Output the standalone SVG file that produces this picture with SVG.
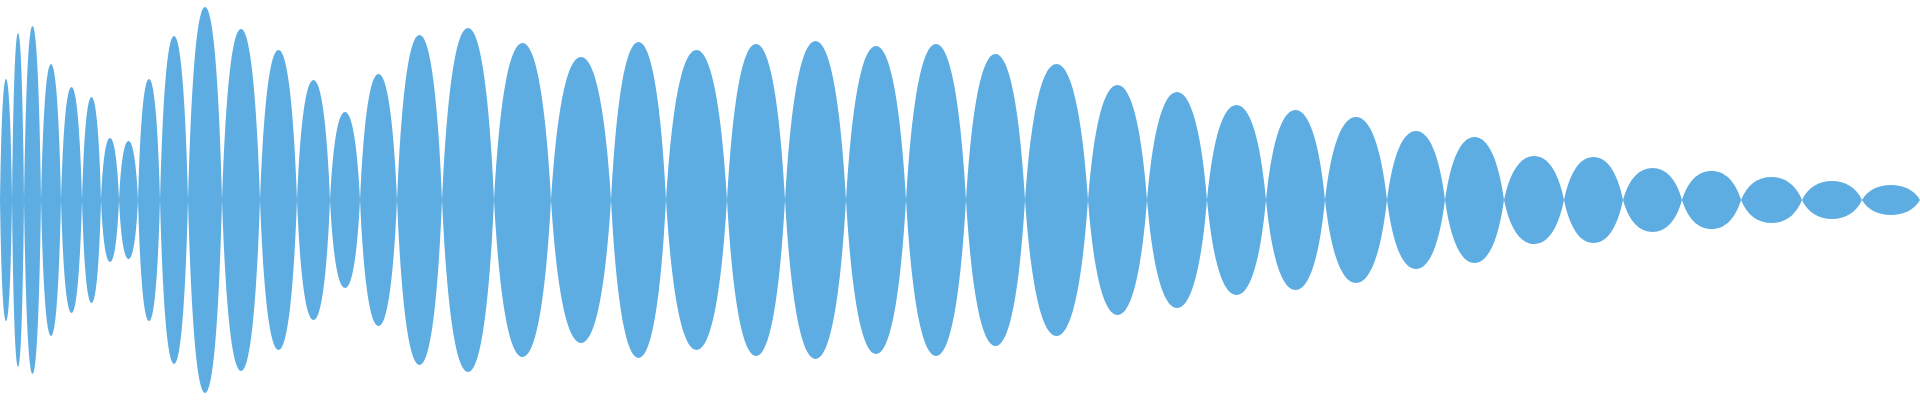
<svg xmlns="http://www.w3.org/2000/svg" xmlns:xlink="http://www.w3.org/1999/xlink" width="1920" height="400" viewBox="0 0 1920 400">
<style>use{fill:#5dade2}</style>
<defs><path id="l" d="M-1 0C-0.8 -0.66 -0.45 -1 0 -1C0.45 -1 0.8 -0.66 1 0C0.8 0.66 0.45 1 0 1C-0.45 1 -0.8 0.66 -1 0Z"/></defs>
<rect width="1920" height="400" fill="#fff"/>
<g id="wave">
<use href="#l" transform="translate(6,200) scale(6,121)"/>
<use href="#l" transform="translate(18,200) scale(6,167)"/>
<use href="#l" transform="translate(32.5,200) scale(8.5,174)"/>
<use href="#l" transform="translate(51,200) scale(10,136)"/>
<use href="#l" transform="translate(71.5,200) scale(10.5,113)"/>
<use href="#l" transform="translate(91.5,200) scale(9.5,103)"/>
<use href="#l" transform="translate(110,200) scale(9,62)"/>
<use href="#l" transform="translate(128.5,200) scale(9.5,59)"/>
<use href="#l" transform="translate(149,200) scale(11,121)"/>
<use href="#l" transform="translate(174,200) scale(14,164)"/>
<use href="#l" transform="translate(205,200) scale(17,193)"/>
<use href="#l" transform="translate(241,200) scale(19,171)"/>
<use href="#l" transform="translate(278.5,200) scale(18.5,150)"/>
<use href="#l" transform="translate(313.5,200) scale(16.5,120)"/>
<use href="#l" transform="translate(345,200) scale(15,88)"/>
<use href="#l" transform="translate(378.5,200) scale(18.5,126)"/>
<use href="#l" transform="translate(419.5,200) scale(22.5,165)"/>
<use href="#l" transform="translate(468,200) scale(26,172)"/>
<use href="#l" transform="translate(522.5,200) scale(28.5,157)"/>
<use href="#l" transform="translate(581,200) scale(30,143)"/>
<use href="#l" transform="translate(638.5,200) scale(27.5,158)"/>
<use href="#l" transform="translate(696.5,200) scale(30.5,150)"/>
<use href="#l" transform="translate(756,200) scale(29,156)"/>
<use href="#l" transform="translate(815.5,200) scale(30.5,159)"/>
<use href="#l" transform="translate(876,200) scale(30,154)"/>
<use href="#l" transform="translate(936,200) scale(30,156)"/>
<use href="#l" transform="translate(995.5,200) scale(29.5,146)"/>
<use href="#l" transform="translate(1056.5,200) scale(31.5,136)"/>
<use href="#l" transform="translate(1117.5,200) scale(29.5,115)"/>
<use href="#l" transform="translate(1177,200) scale(30,108)"/>
<use href="#l" transform="translate(1236.5,200) scale(29.5,95)"/>
<use href="#l" transform="translate(1295.5,200) scale(29.5,90)"/>
<use href="#l" transform="translate(1356,200) scale(31,83)"/>
<use href="#l" transform="translate(1416,200) scale(29,69)"/>
<use href="#l" transform="translate(1474.5,200) scale(29.5,63)"/>
<use href="#l" transform="translate(1534,200) scale(30,44)"/>
<use href="#l" transform="translate(1593.5,200) scale(29.5,43)"/>
<use href="#l" transform="translate(1652.5,200) scale(29.5,32)"/>
<use href="#l" transform="translate(1711.5,200) scale(29.5,29)"/>
<use href="#l" transform="translate(1771.5,200) scale(30.5,23)"/>
<use href="#l" transform="translate(1832,200) scale(30,19)"/>
<use href="#l" transform="translate(1891,200) scale(29,15)"/>
</g>
</svg>
